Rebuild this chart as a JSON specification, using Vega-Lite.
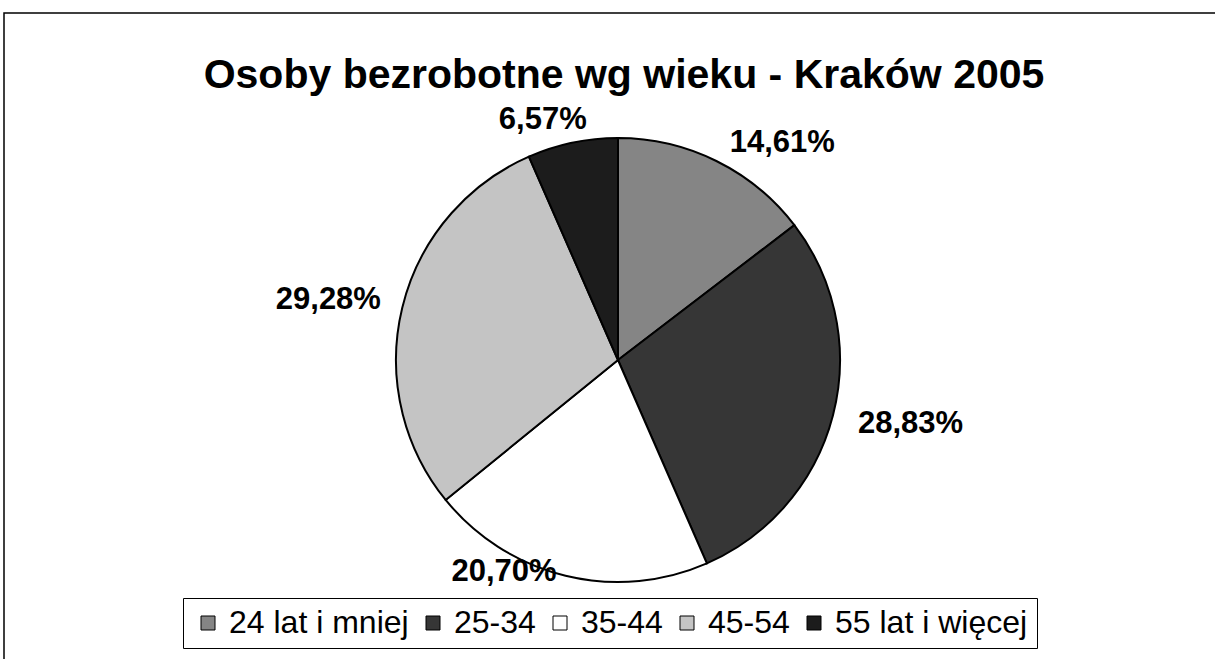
{
  "$schema": "https://vega.github.io/schema/vega-lite/v6.json",
  "width": 1228,
  "height": 694,
  "autosize": {"type": "none"},
  "padding": {"left": 4, "top": 13, "right": 0, "bottom": 0},
  "background": "white",
  "config": {"view": {"stroke": "black", "strokeWidth": 1.5}, "font": "Liberation Sans"},
  "title": {"text": "Osoby bezrobotne wg wieku - Kraków 2005", "font": "Liberation Sans", "fontSize": 41, "fontWeight": "bold", "color": "black", "anchor": "middle", "orient": "top", "frame": "group", "baseline": "top", "offset": -40, "dy": 44, "dx": 6},
  "data": {"values": [
    {"idx": 1, "age": "24 lat i mniej", "pct": 14.61, "label": "14,61%"},
    {"idx": 2, "age": "25-34", "pct": 28.83, "label": "28,83%"},
    {"idx": 3, "age": "35-44", "pct": 20.70, "label": "20,70%"},
    {"idx": 4, "age": "45-54", "pct": 29.28, "label": "29,28%"},
    {"idx": 5, "age": "55 lat i więcej", "pct": 6.57, "label": "6,57%"}
  ]},
  "layer": [
    {
      "mark": {"type": "point", "opacity": 0},
      "encoding": {
        "x": {"field": "idx", "type": "quantitative", "axis": null},
        "y": {"field": "pct", "type": "quantitative", "axis": null}
      }
    },
    {
      "mark": {"type": "arc", "radius": 222, "stroke": "black", "strokeWidth": 2},
      "encoding": {
        "theta": {"field": "pct", "type": "quantitative", "stack": true},
        "order": {"field": "idx", "type": "quantitative"},
        "color": {
          "field": "age", "type": "nominal",
          "scale": {"domain": ["24 lat i mniej", "25-34", "35-44", "45-54", "55 lat i więcej"], "range": ["#858585", "#363636", "#ffffff", "#c4c4c4", "#1c1c1c"]},
          "legend": {"orient": "none", "legendX": 179, "legendY": 585, "direction": "horizontal", "columns": 5, "title": null, "strokeColor": "black", "padding": 9, "symbolType": "square", "symbolSize": 196, "symbolStrokeColor": "black", "symbolStrokeWidth": 1, "symbolOpacity": 1, "labelFontSize": 32, "labelFont": "Liberation Sans", "labelColor": "black", "labelLimit": 400, "columnPadding": 8, "labelOffset": 5}
        }
      }
    },
    {
      "mark": {"type": "text", "radius": 267, "dx": 46, "dy": 22, "fontSize": 31, "fontWeight": "bold", "font": "Liberation Sans", "color": "black"},
      "encoding": {
        "theta": {"field": "pct", "type": "quantitative", "stack": true},
        "order": {"field": "idx", "type": "quantitative"},
        "text": {"condition": {"test": "datum.idx == 1", "field": "label"}, "value": ""}
      }
    },
    {
      "mark": {"type": "text", "radius": 299, "dx": 3, "dy": -11, "fontSize": 31, "fontWeight": "bold", "font": "Liberation Sans", "color": "black"},
      "encoding": {
        "theta": {"field": "pct", "type": "quantitative", "stack": true},
        "order": {"field": "idx", "type": "quantitative"},
        "text": {"condition": {"test": "datum.idx == 2", "field": "label"}, "value": ""}
      }
    },
    {
      "mark": {"type": "text", "radius": 233, "dx": -59, "dy": -14, "fontSize": 31, "fontWeight": "bold", "font": "Liberation Sans", "color": "black"},
      "encoding": {
        "theta": {"field": "pct", "type": "quantitative", "stack": true},
        "order": {"field": "idx", "type": "quantitative"},
        "text": {"condition": {"test": "datum.idx == 3", "field": "label"}, "value": ""}
      }
    },
    {
      "mark": {"type": "text", "radius": 296, "dx": -2, "dy": 10, "fontSize": 31, "fontWeight": "bold", "font": "Liberation Sans", "color": "black"},
      "encoding": {
        "theta": {"field": "pct", "type": "quantitative", "stack": true},
        "order": {"field": "idx", "type": "quantitative"},
        "text": {"condition": {"test": "datum.idx == 4", "field": "label"}, "value": ""}
      }
    },
    {
      "mark": {"type": "text", "radius": 250, "dx": -24, "dy": 5, "fontSize": 31, "fontWeight": "bold", "font": "Liberation Sans", "color": "black"},
      "encoding": {
        "theta": {"field": "pct", "type": "quantitative", "stack": true},
        "order": {"field": "idx", "type": "quantitative"},
        "text": {"condition": {"test": "datum.idx == 5", "field": "label"}, "value": ""}
      }
    }
  ]
}
